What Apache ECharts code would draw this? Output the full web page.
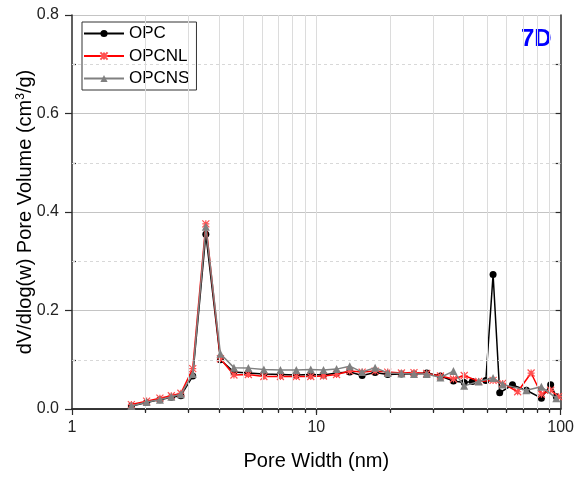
<!DOCTYPE html>
<html>
<head>
<meta charset="utf-8">
<script src="https://cdn.jsdelivr.net/npm/echarts@6/dist/echarts.min.js"></script>
<style>
  html, body { margin: 0; padding: 0; background: #fff; }
  #chart { width: 577px; height: 477px; }
</style>
</head>
<body>
<div id="chart"></div>
<script>
// Pore widths (nm) shared by all three samples up to ~36 nm
const widthCommon = [1.75, 2.02, 2.29, 2.55, 2.79, 3.12, 3.53, 4.05, 4.60, 5.27, 6.10, 7.13, 8.28, 9.49,
  10.7, 12.1, 13.7, 15.4, 17.4, 19.6, 22.3, 25.1, 28.3, 32.2, 36.4];

// dV/dlog(w) pore volume (cm3/g) over the shared widths
const opcCommon   = [0.006, 0.013, 0.019, 0.024, 0.027, 0.067, 0.355, 0.100, 0.075, 0.073, 0.071, 0.070, 0.069, 0.070,
  0.069, 0.073, 0.075, 0.068, 0.074, 0.070, 0.071, 0.071, 0.073, 0.067, 0.057];
const opcnlCommon = [0.009, 0.016, 0.022, 0.027, 0.032, 0.082, 0.376, 0.102, 0.069, 0.070, 0.066, 0.066, 0.066, 0.066,
  0.067, 0.070, 0.077, 0.075, 0.077, 0.075, 0.073, 0.074, 0.072, 0.067, 0.061];
const opcnsCommon = [0.006, 0.014, 0.019, 0.025, 0.030, 0.071, 0.370, 0.112, 0.084, 0.083, 0.080, 0.079, 0.079, 0.080,
  0.079, 0.081, 0.087, 0.075, 0.084, 0.073, 0.072, 0.071, 0.071, 0.064, 0.077];

// Large-pore tails, measured at their own widths
const opcTailWidth   = [40.3, 43.5, 49.4, 52.9, 56.3, 63.5, 72.4, 83.4, 91.0, 96.0];
const opcTail        = [0.054, 0.056, 0.058, 0.273, 0.033, 0.049, 0.038, 0.022, 0.049, 0.025];
const opcnlTailWidth = [40.3, 46.2, 52.9, 57.9, 66.7, 75.7, 83.4, 91.0, 98.0];
const opcnlTail      = [0.068, 0.056, 0.058, 0.052, 0.035, 0.073, 0.030, 0.038, 0.025];
const opcnsTailWidth = [40.3, 46.2, 52.9, 57.9, 72.4, 83.4, 96.0];
const opcnsTail      = [0.047, 0.056, 0.063, 0.050, 0.038, 0.045, 0.022];

const seriesNames = ['OPC', 'OPCNL', 'OPCNS'];
const xMinorValues = [2, 3, 4, 5, 6, 7, 8, 9, 20, 30, 40, 50, 60, 70, 80, 90];
const yMinorValues = [0.1, 0.3, 0.5, 0.7];

function pairs(ws, vs) { return ws.map((w, i) => [w, vs[i]]); }

const opcData   = pairs(widthCommon, opcCommon).concat(pairs(opcTailWidth, opcTail));
const opcnlData = pairs(widthCommon, opcnlCommon).concat(pairs(opcnlTailWidth, opcnlTail));
const opcnsData = pairs(widthCommon, opcnsCommon).concat(pairs(opcnsTailWidth, opcnsTail));

const FONT = 'Liberation Sans, Arial, sans-serif';
const AXIS_COLOR = '#2b2b2b';
const asterisk = 'path://M0,0L10,10M10,0L0,10M0,5L10,5M5,0L5,10';

const chart = echarts.init(document.getElementById('chart'), null, { renderer: 'canvas' });

const gridLines = xMinorValues.concat([10]).map(v => ({ xAxis: v }));

chart.setOption({
  animation: false,
  backgroundColor: '#ffffff',
  textStyle: { fontFamily: FONT },
  grid: { left: 72, right: 16, top: 15, bottom: 68 },
  legend: {
    data: seriesNames,
    orient: 'vertical',
    left: 82,
    top: 22,
    itemWidth: 40,
    itemHeight: 9,
    itemGap: 5.5,
    padding: [3, 7, 3, 1],
    borderColor: '#333',
    borderWidth: 1,
    textStyle: { fontSize: 17, color: '#000', lineHeight: 17, fontFamily: FONT }
  },
  xAxis: [
    {
      type: 'log', logBase: 10, min: 1, max: 100,
      position: 'bottom',
      name: 'Pore Width (nm)',
      nameLocation: 'middle',
      nameGap: 42,
      nameMoveOverlap: false,
      nameTextStyle: { fontSize: 20, color: '#000', fontFamily: FONT },
      axisLine: { show: true, lineStyle: { color: AXIS_COLOR, width: 1.5 } },
      axisTick: { show: true, inside: false, length: 6, lineStyle: { color: AXIS_COLOR, width: 1.2 } },
      axisLabel: { fontSize: 16, color: '#222', margin: 11, fontFamily: FONT },
      splitLine: { show: false }
    },
    {
      type: 'log', logBase: 10, min: 1, max: 100,
      position: 'bottom',
      axisLine: { show: false },
      axisTick: { show: true, inside: false, length: 3, customValues: xMinorValues, lineStyle: { color: AXIS_COLOR, width: 1.2 } },
      axisLabel: { show: false },
      splitLine: { show: false }
    },
    {
      type: 'log', logBase: 10, min: 1, max: 100,
      position: 'top',
      axisLine: { show: true, lineStyle: { color: AXIS_COLOR, width: 1.5 } },
      axisTick: { show: true, inside: true, length: 4, customValues: xMinorValues.concat([10]), lineStyle: { color: AXIS_COLOR, width: 1.2 } },
      axisLabel: { show: false },
      splitLine: { show: false }
    }
  ],
  yAxis: [
    {
      type: 'value', min: 0, max: 0.8, interval: 0.2,
      position: 'left',
      name: 'dV/dlog(w) Pore Volume (cm{sup|3}/g)',
      nameLocation: 'middle',
      nameGap: 36,
      nameMoveOverlap: false,
      nameTextStyle: {
        fontSize: 20, color: '#000', fontFamily: FONT,
        rich: { sup: { fontSize: 12, color: '#000', padding: [0, 0, 9, 0], fontFamily: FONT } }
      },
      axisLine: { show: true, lineStyle: { color: AXIS_COLOR, width: 1.5 } },
      axisTick: { show: true, inside: false, length: 7, lineStyle: { color: AXIS_COLOR, width: 1.2 } },
      axisLabel: {
        fontSize: 16, color: '#222', margin: 13, fontFamily: FONT,
        formatter: v => v.toFixed(1)
      },
      splitLine: { show: true, lineStyle: { color: '#c4c4c4', width: 1 } }
    },
    {
      type: 'value', min: 0, max: 0.8, interval: 0.1,
      position: 'left',
      axisLine: { show: false },
      axisTick: { show: true, inside: true, length: 4, customValues: yMinorValues, lineStyle: { color: AXIS_COLOR, width: 1.2 } },
      axisLabel: { show: false },
      splitLine: { show: false }
    },
    {
      type: 'value', min: 0, max: 0.8, interval: 0.1,
      position: 'right',
      axisLine: { show: true, lineStyle: { color: AXIS_COLOR, width: 1.5 } },
      axisTick: { show: true, inside: true, length: 5, customValues: yMinorValues.concat([0.2, 0.4, 0.6]), lineStyle: { color: AXIS_COLOR, width: 1.2 } },
      axisLabel: { show: false },
      splitLine: { show: false }
    }
  ],
  graphic: [
    {
      type: 'text',
      left: 521,
      top: 27,
      style: { text: '7D', fontSize: 24, fontWeight: 'bold', fill: '#0000ff', fontFamily: FONT }
    }
  ],
  series: [
    {
      // vertical grid at each log sub-decade and horizontal dashed minor lines
      type: 'line',
      xAxisIndex: 0, yAxisIndex: 0,
      data: [],
      silent: true,
      markLine: {
        silent: true,
        symbol: 'none',
        label: { show: false },
        lineStyle: { color: '#dcdcdc', width: 1, type: 'solid' },
        data: gridLines.concat(yMinorValues.map(v => ({
          yAxis: v, lineStyle: { color: '#d8d8d8', type: [3, 3], width: 1 }
        })))
      },
      z: 1
    },
    {
      name: 'OPC',
      type: 'line',
      xAxisIndex: 0, yAxisIndex: 0,
      data: opcData,
      symbol: 'circle',
      symbolSize: 7,
      lineStyle: { color: '#000', width: 1.5 },
      itemStyle: { color: '#000' },
      z: 3
    },
    {
      name: 'OPCNL',
      type: 'line',
      xAxisIndex: 0, yAxisIndex: 0,
      data: opcnlData,
      symbol: asterisk,
      symbolSize: 7,
      lineStyle: { color: '#ff0000', width: 1.5 },
      itemStyle: { color: 'none', borderColor: '#ff5050', borderWidth: 1.2 },
      z: 4
    },
    {
      name: 'OPCNS',
      type: 'line',
      xAxisIndex: 0, yAxisIndex: 0,
      data: opcnsData,
      symbol: 'triangle',
      symbolSize: 8,
      lineStyle: { color: '#808080', width: 1.5 },
      itemStyle: { color: '#808080' },
      z: 5
    }
  ]
});
</script>
</body>
</html>
